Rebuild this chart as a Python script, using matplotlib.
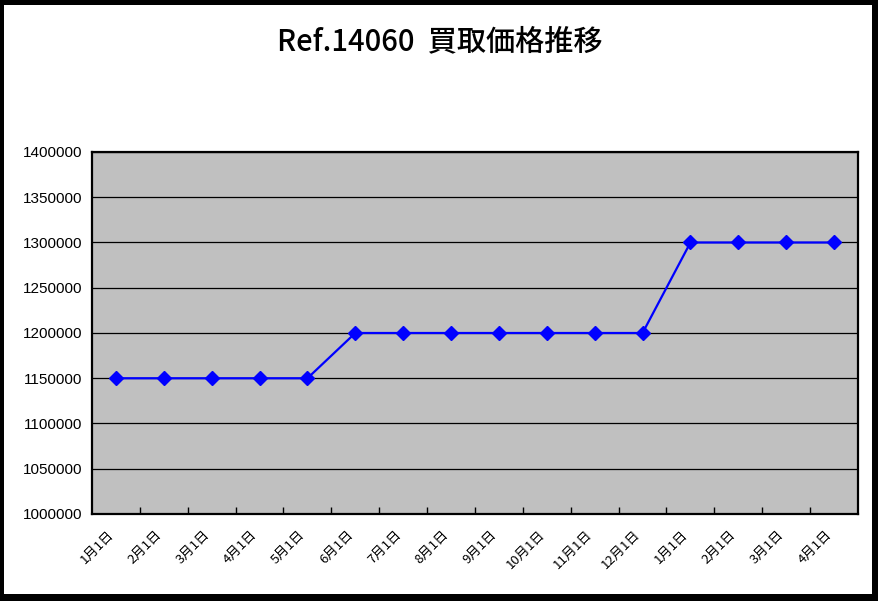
import numpy as np
import matplotlib.pyplot as plt
import matplotlib.transforms as mtransforms
from matplotlib.patches import Rectangle

plt.rcParams['font.family'] = ['Noto Sans CJK JP', 'DejaVu Sans']

title = "Ref.14060  買取価格推移"
months = ["1月1日", "2月1日", "3月1日", "4月1日", "5月1日", "6月1日", "7月1日", "8月1日",
          "9月1日", "10月1日", "11月1日", "12月1日", "1月1日", "2月1日", "3月1日", "4月1日"]
prices = [1150000, 1150000, 1150000, 1150000, 1150000,
          1200000, 1200000, 1200000, 1200000, 1200000, 1200000, 1200000,
          1300000, 1300000, 1300000, 1300000]
yticks = list(range(1000000, 1400001, 50000))

W, H = 879, 601
fig = plt.figure(figsize=(W / 100, H / 100), dpi=100)
fig.patch.set_facecolor('black')
fig.patches.append(Rectangle((4 / W, 7 / H), 868 / W, 589 / H, transform=fig.transFigure,
                             facecolor='white', edgecolor='none', zorder=-5))

ax = fig.add_axes([92 / W, 87 / H, 766 / W, 362 / H])
ax.set_facecolor('#c0c0c0')
x = np.arange(len(prices))
ax.plot(x, prices, color='#0000ff', lw=1.6, marker='D', ms=7, zorder=3)

ax.set_xlim(-0.5, len(prices) - 0.5)
ax.set_ylim(1000000, 1400000)
ax.set_yticks(yticks)
ax.set_yticklabels([str(v) for v in yticks], fontsize=11, family=['Liberation Sans'])
ax.yaxis.grid(True, color='black', lw=0.9)
ax.tick_params(axis='y', length=0, pad=7)

ax.set_xticks(np.arange(0.5, len(prices) - 1, 1.0))
ax.set_xticklabels([])
ax.tick_params(axis='x', which='major', direction='in', length=5, width=1, color='black')
ax.set_xticks(x, minor=True)
ax.set_xticklabels(months, minor=True, rotation=45, ha='right', rotation_mode='anchor', fontsize=9.5)
ax.tick_params(axis='x', which='minor', length=0, pad=10)
shift = mtransforms.ScaledTranslation(-9 / 100, 0, fig.dpi_scale_trans)
for lab in ax.get_xticklabels(minor=True):
    lab.set_transform(lab.get_transform() + shift)

for s in ax.spines.values():
    s.set_linewidth(1.6)
    s.set_color('black')

fig.text(0.5, 1 - 42 / H, title, ha='center', va='center', fontsize=21, fontweight='medium')

fig.savefig('out.png', dpi=100, facecolor=fig.get_facecolor())
